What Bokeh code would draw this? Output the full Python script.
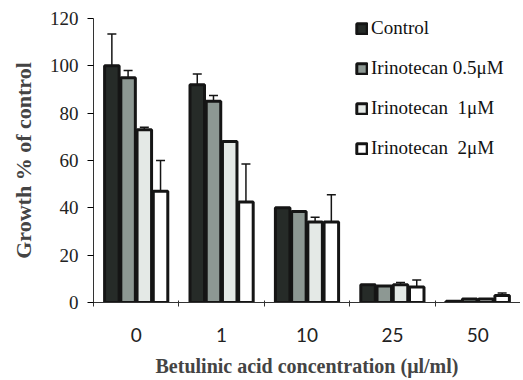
from bokeh.plotting import figure
from bokeh.models import (Range1d, FixedTicker, ColumnDataSource, Whisker, TeeHead,
                          Legend, LegendItem)
from bokeh.embed import file_html
from bokeh.resources import INLINE

# ---- data ----
concentrations = ["0", "1", "10", "25", "50"]
series_names = ["Control", "Irinotecan 0.5\u03bcM", "Irinotecan  1\u03bcM", "Irinotecan  2\u03bcM"]
control = [100, 92, 40, 7.5, 0.5]
control_err = [13.5, 4.5, 0, 0, 0]
iri_05 = [95, 85, 38.5, 7, 1.5]
iri_05_err = [3, 2.5, 0, 0, 0]
iri_1 = [73, 68, 34, 7.5, 1.5]
iri_1_err = [1, 0, 2, 1, 0]
iri_2 = [47, 42.5, 34, 6.5, 3]
iri_2_err = [13, 16, 11.5, 3, 1]
y_ticks = [0, 20, 40, 60, 80, 100, 120]

values = [control, iri_05, iri_1, iri_2]
errors = [control_err, iri_05_err, iri_1_err, iri_2_err]
fills = ["#262b28", "#8d9893", "#e4e9e6", "#ffffff"]
offsets = [-0.285, -0.095, 0.095, 0.285]
bar_w = 0.17

p = figure(frame_width=427, frame_height=284, output_backend="svg", toolbar_location=None,
           x_range=Range1d(-0.5, 4.5), y_range=Range1d(0, 120),
           min_border_left=93, min_border_right=0, min_border_top=18, min_border_bottom=0)
p.outline_line_color = None
p.grid.visible = False
p.background_fill_color = "white"

items = []
for name, vals, errs, fc, off in zip(series_names, values, errors, fills, offsets):
    xs = [i + off for i in range(len(concentrations))]
    src = ColumnDataSource(dict(x=xs, top=vals, up=[v + e for v, e in zip(vals, errs)],
                                lo=[v - e for v, e in zip(vals, errs)]))
    r = p.vbar(x="x", top="top", width=bar_w, bottom=0, source=src,
               fill_color=fc, line_color="#151515", line_width=3)
    items.append(LegendItem(label=name, renderers=[r]))
    w = Whisker(base="x", upper="up", lower="lo", source=src, line_color="#151515",
                line_width=1.5,
                upper_head=TeeHead(size=9, line_color="#151515", line_width=1.5),
                lower_head=TeeHead(size=9, line_color="#151515", line_width=1.5))
    p.add_layout(w)

legend = Legend(items=items, location=(262, 143), padding=0, margin=0,
                border_line_color=None, background_fill_alpha=0,
                glyph_width=13, glyph_height=13, label_height=13, spacing=18,
                label_text_font="Liberation Serif", label_text_font_size="19px",
                label_text_color="#111111", label_standoff=3)
p.add_layout(legend)

# x axis
p.xaxis.ticker = FixedTicker(ticks=list(range(len(concentrations))),
                             minor_ticks=[i - 0.5 for i in range(len(concentrations))])
p.xaxis.major_label_overrides = {i: c for i, c in enumerate(concentrations)}
p.xaxis.major_tick_line_color = None
p.xaxis.minor_tick_out = 4
p.xaxis.minor_tick_in = 2
p.xaxis.minor_tick_line_color = "#333333"
p.xaxis.major_label_standoff = 19
p.xaxis.major_label_text_font = "Lato"
p.xaxis.major_label_text_font_size = "19px"
p.xaxis.major_label_text_color = "#222222"
p.xaxis.axis_label = "Betulinic acid concentration (\u03bcl/ml)"
p.xaxis.axis_label_text_font = "Liberation Serif"
p.xaxis.axis_label_text_font_style = "bold"
p.xaxis.axis_label_text_font_size = "20px"
p.xaxis.axis_label_standoff = 10
p.xaxis.axis_line_color = "#333333"

# y axis
p.yaxis.ticker = FixedTicker(ticks=y_ticks)
p.yaxis.minor_tick_line_color = None
p.yaxis.major_tick_out = 6
p.yaxis.major_tick_in = 0
p.yaxis.major_label_standoff = 9
p.yaxis.major_label_text_font = "Liberation Serif"
p.yaxis.major_label_text_font_size = "19px"
p.yaxis.major_label_text_color = "#222222"
p.yaxis.axis_label = "Growth % of control"
p.yaxis.axis_label_text_font = "Liberation Serif"
p.yaxis.axis_label_text_font_style = "bold"
p.yaxis.axis_label_text_font_size = "22px"
p.yaxis.axis_label_standoff = 11
p.yaxis.axis_line_color = "#333333"

open("out.html", "w").write(file_html(p, INLINE))
